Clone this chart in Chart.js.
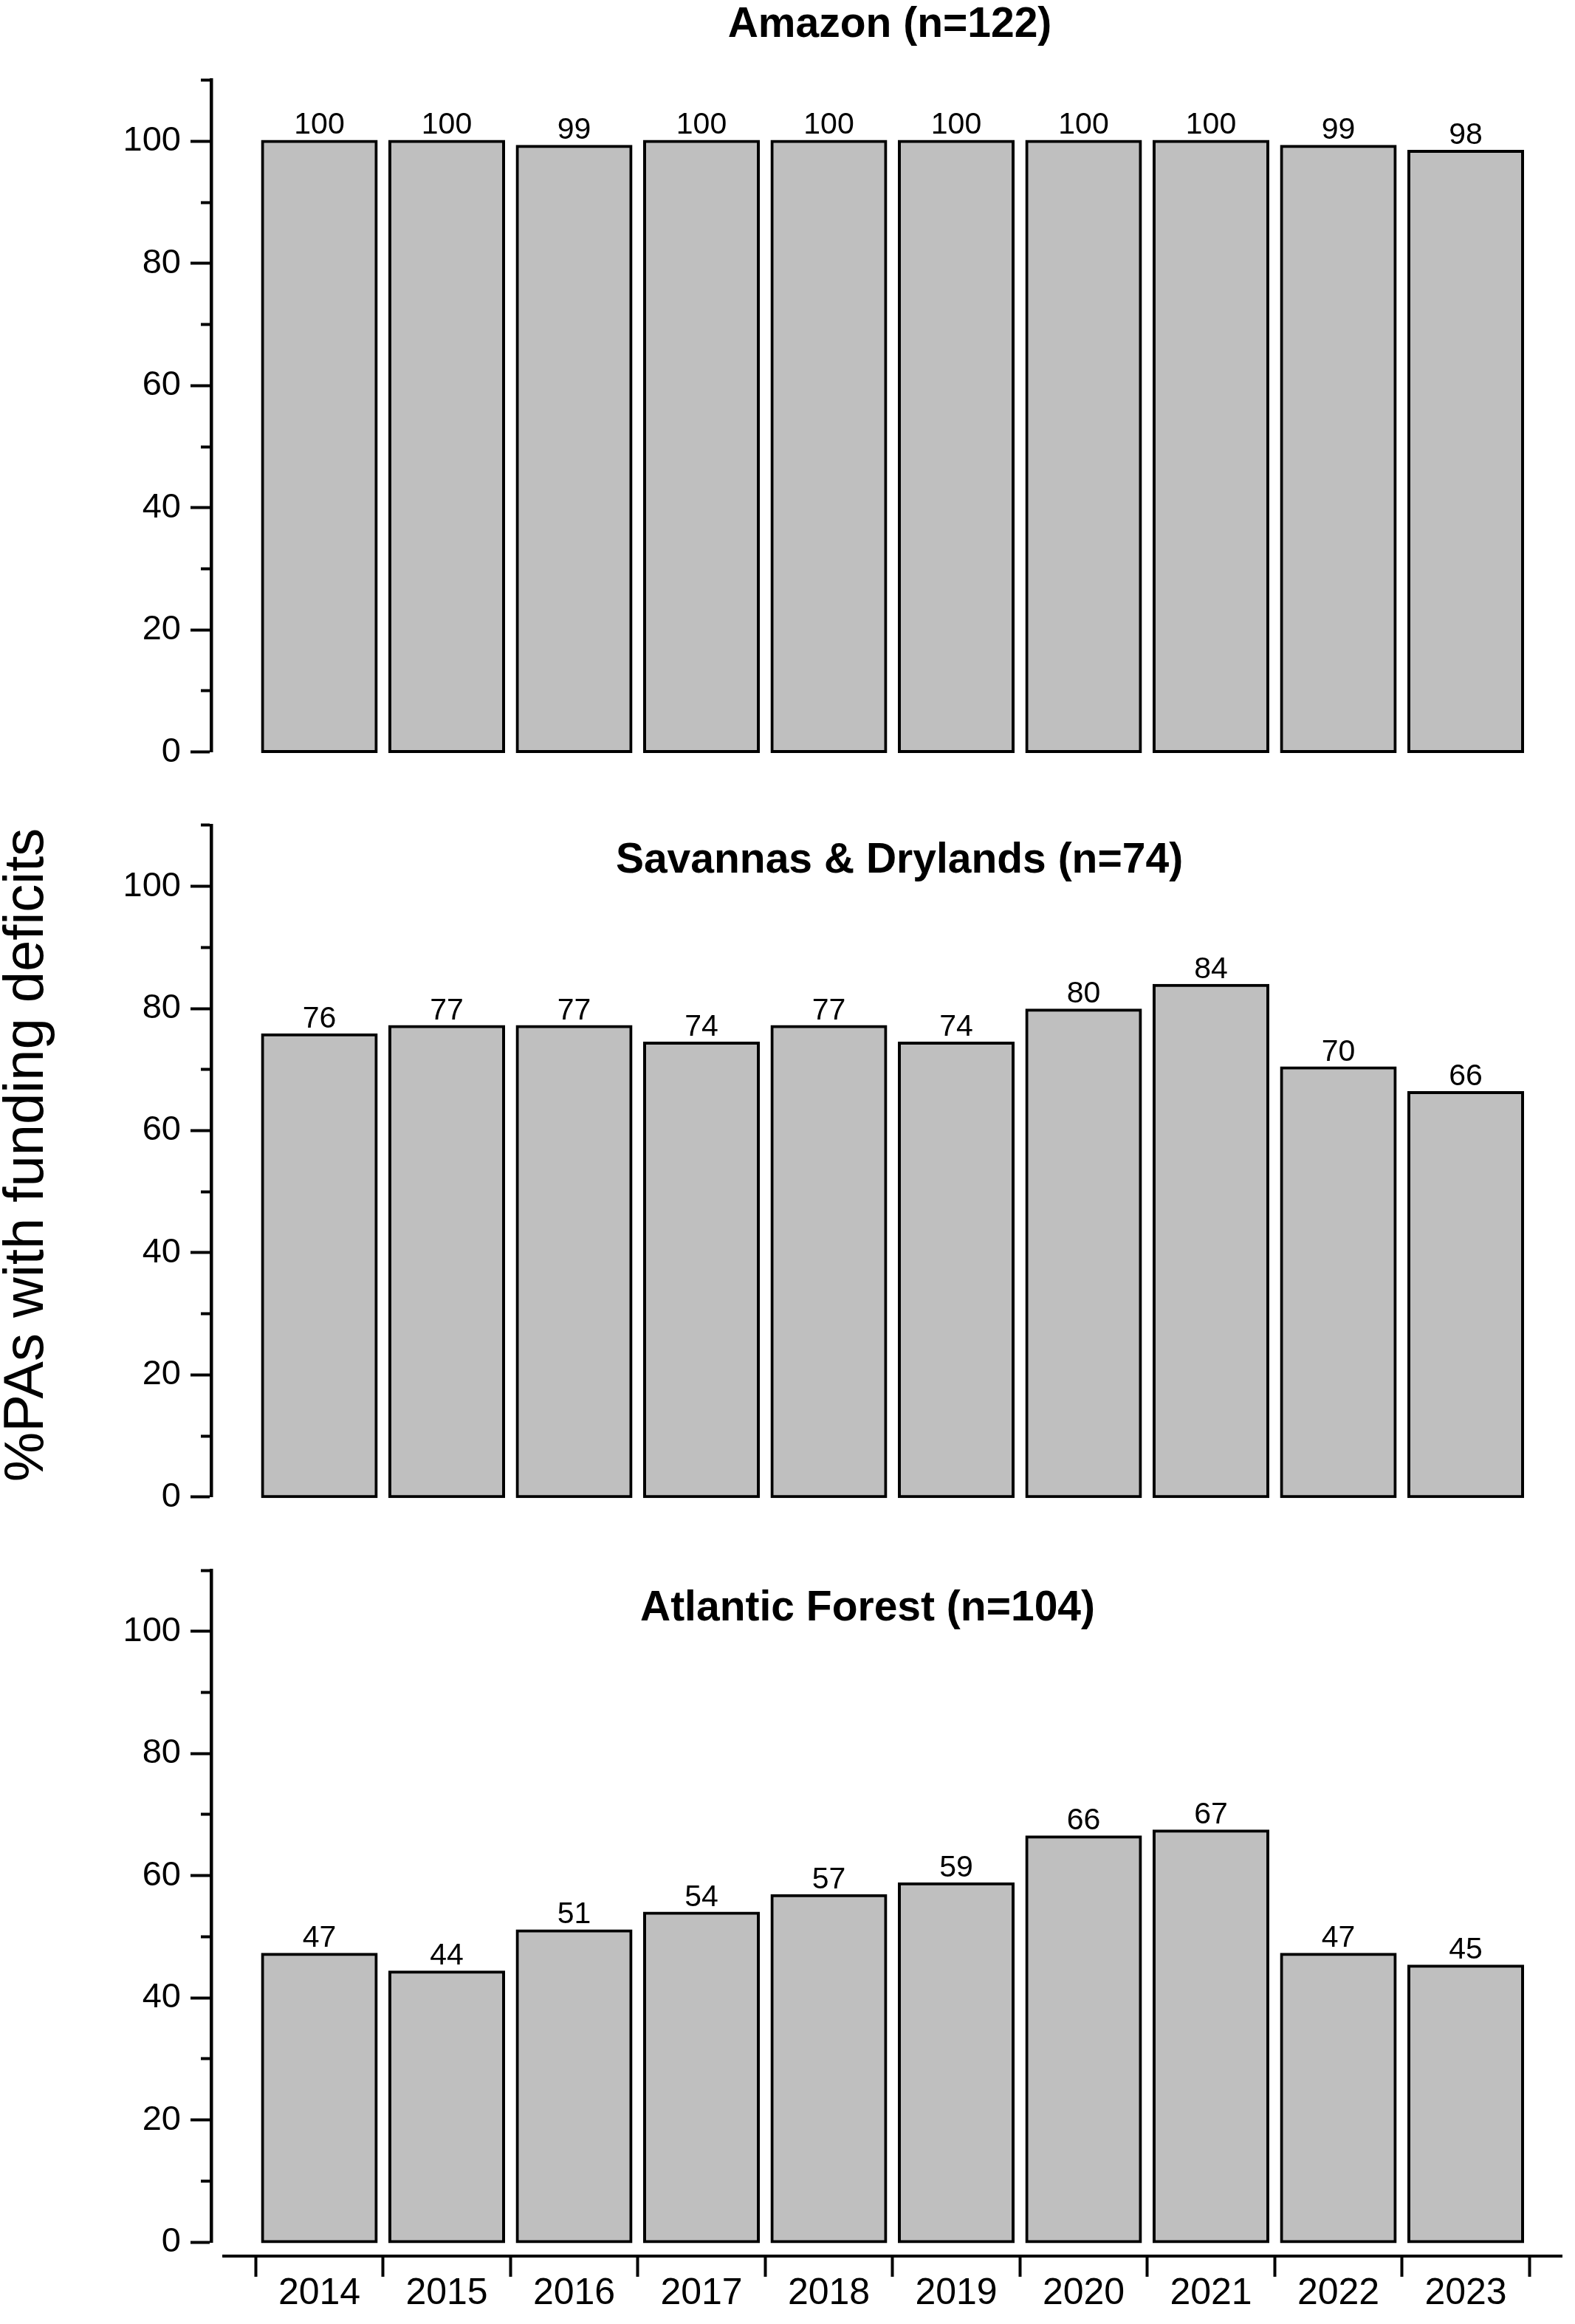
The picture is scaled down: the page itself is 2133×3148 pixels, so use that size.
<!DOCTYPE html>
<html>
<head>
<meta charset="utf-8">
<script src="https://cdn.jsdelivr.net/npm/chart.js@4.4.1/dist/chart.umd.min.js"></script>
<style>
  html, body { margin: 0; padding: 0; background: #ffffff; }
  #wrap { position: relative; width: 2133px; height: 3148px; background: #ffffff; overflow: hidden; }
  #wrap canvas { position: absolute; left: 0; }
</style>
</head>
<body>
<div id="wrap">
  <canvas id="c1" width="2133" height="1068" style="top:0px;width:2133px;height:1068px"></canvas>
  <canvas id="c2" width="2133" height="1009" style="top:1068px;width:2133px;height:1009px"></canvas>
  <canvas id="c3" width="2133" height="1071" style="top:2077px;width:2133px;height:1071px"></canvas>
</div>
<script>
// ---------------- data ----------------
const YEARS = [2014, 2015, 2016, 2017, 2018, 2019, 2020, 2021, 2022, 2023];
const AMAZON = [100, 100, 99.18, 100, 100, 100, 100, 100, 99.18, 98.36];
const SAVANNAS = [75.68, 77.03, 77.03, 74.32, 77.03, 74.32, 79.73, 83.78, 70.27, 66.22];
const ATLANTIC = [47.12, 44.23, 50.96, 53.85, 56.73, 58.65, 66.35, 67.31, 47.12, 45.19];
const TITLES = ['Amazon (n=122)', 'Savannas & Drylands (n=74)', 'Atlantic Forest (n=104)'];
const Y_TICK_LABELS = [0, 20, 40, 60, 80, 100];
const Y_MINOR_TICKS = [10, 30, 50, 70, 90, 110];
const Y_TITLE = '%PAs with funding deficits';

// axis ranges (in data units)
const X_MIN = 2013.1507, X_MAX = 2023.7594;
const X_AXIS_FROM = 2013.238, X_AXIS_TO = 2023.7594;
const Y_MIN = 0, Y_MAX = 110;

// plot-area horizontal extent (px) and derived half-category label shift
const PLOT_LEFT = 286, PLOT_RIGHT = 2116, CANVAS_W = 2133;
const LABEL_SHIFT = 0.5 * (PLOT_RIGHT - PLOT_LEFT) / (X_MAX - X_MIN);

const FONT = '"Liberation Sans", Arial, Helvetica, sans-serif';
Chart.defaults.font.family = FONT;
Chart.defaults.color = '#000';

// category boundaries (where the x tick marks go)
const X_BOUNDS = YEARS.map(y => y - 0.5).concat([YEARS[YEARS.length - 1] + 0.5]);

const deco = {
  id: 'deco',
  afterDatasetsDraw(chart, args, o) {
    const ctx = chart.ctx;
    const xs = chart.scales.x, ys = chart.scales.y;
    const meta = chart.getDatasetMeta(0);
    const ds = chart.data.datasets[0].data;
    ctx.save();
    // value labels
    ctx.fillStyle = '#000';
    ctx.font = '41px ' + FONT;
    ctx.textAlign = 'center';
    ctx.textBaseline = 'alphabetic';
    meta.data.forEach((bar, i) => {
      const v = ds[i].y;
      ctx.fillText(String(Math.round(v)), bar.x, ys.getPixelForValue(v) - 10);
    });
    // panel title
    ctx.font = 'bold 57px ' + FONT;
    ctx.fillText(o.title, o.titleX, o.titleY);
    // shared y axis title
    if (o.yTitle) {
      ctx.save();
      ctx.font = '76px ' + FONT;
      ctx.translate(o.yTitleX, o.yTitleY);
      ctx.rotate(-Math.PI / 2);
      ctx.textAlign = 'center';
      ctx.fillText(o.yTitle, 0, 0);
      ctx.restore();
    }
    // detached bottom axis line
    if (o.xAxisLine) {
      const y = chart.chartArea.bottom + 19;
      ctx.strokeStyle = '#000';
      ctx.lineWidth = 4;
      ctx.lineCap = 'butt';
      ctx.beginPath();
      ctx.moveTo(xs.getPixelForValue(X_AXIS_FROM), y);
      ctx.lineTo(xs.getPixelForValue(X_AXIS_TO), y);
      ctx.stroke();
    }
    ctx.restore();
  }
};

function makePanel(id, values, pad, showX, decoOpts) {
  return new Chart(document.getElementById(id), {
    type: 'bar',
    data: {
      datasets: [{
        data: YEARS.map((yr, i) => ({ x: yr, y: values[i] })),
        backgroundColor: '#BFBFBF',
        borderColor: '#000000',
        borderWidth: 4,
        borderSkipped: false,
        inflateAmount: 2,
        barPercentage: 0.893,
        categoryPercentage: 1,
        clip: false
      }]
    },
    options: {
      responsive: false,
      animation: false,
      events: [],
      layout: { padding: { left: 0, right: CANVAS_W - PLOT_RIGHT, top: pad.top, bottom: pad.bottom } },
      plugins: {
        legend: { display: false },
        tooltip: { enabled: false },
        title: { display: false },
        deco: decoOpts
      },
      scales: {
        x: {
          type: 'linear',
          min: X_MIN,
          max: X_MAX,
          offset: false,
          display: showX,
          afterBuildTicks(s) { s.ticks = X_BOUNDS.map(v => ({ value: v })); },
          afterFit(s) { s.height = showX ? 111 : 0; },
          border: { display: false },
          grid: {
            display: true,
            offset: false,
            drawOnChartArea: false,
            drawTicks: true,
            tickLength: 47,
            tickWidth: 4,
            tickColor: '#000',
            tickBorderDash: [0, 19, 28]
          },
          ticks: {
            autoSkip: false,
            maxRotation: 0,
            minRotation: 0,
            padding: -2,
            color: '#000',
            font: { size: 50, lineHeight: 1 },
            labelOffset: LABEL_SHIFT,
            callback: (v) => (YEARS.includes(v + 0.5) ? String(v + 0.5) : '')
          }
        },
        y: {
          type: 'linear',
          min: Y_MIN,
          max: Y_MAX,
          afterFit(s) { s.width = PLOT_LEFT; },
          border: { display: true, color: '#000', width: 4.5 },
          grid: {
            display: true,
            drawOnChartArea: false,
            drawTicks: true,
            tickLength: 28,
            tickWidth: 4,
            tickColor: '#000',
            tickBorderDash: (c) => (c && c.tick && Y_MINOR_TICKS.includes(c.tick.value) ? [0, 14, 14] : [])
          },
          ticks: {
            stepSize: 10,
            autoSkip: false,
            padding: 13,
            color: '#000',
            font: { size: 47 },
            callback: (v) => (Y_TICK_LABELS.includes(v) ? String(v) : '')
          }
        }
      }
    },
    plugins: [deco]
  });
}

makePanel('c1', AMAZON, { top: 108.7, bottom: 49.4 }, false,
  { title: TITLES[0], titleX: 1205, titleY: 50 });
makePanel('c2', SAVANNAS, { top: 49.9, bottom: 49.2 }, false,
  { title: TITLES[1], titleX: 1218, titleY: 114, yTitle: Y_TITLE, yTitleX: 58, yTitleY: 496.5 });
makePanel('c3', ATLANTIC, { top: 50.1, bottom: 0 }, true,
  { title: TITLES[2], titleX: 1175, titleY: 118, xAxisLine: true });
</script>
</body>
</html>
